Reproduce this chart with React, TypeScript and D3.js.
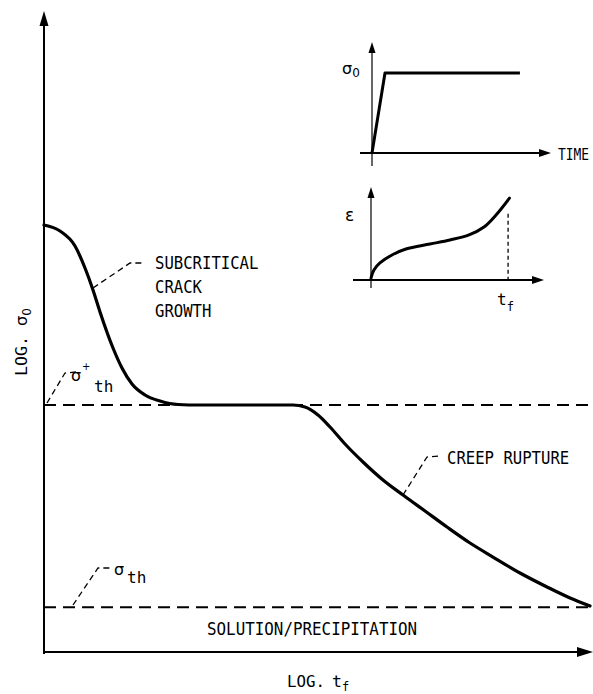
import React from "react";
import * as d3 from "d3";

// Main curve: log time (x) vs log stress (y), arbitrary units 0..10
const mainX = [0, 0.292, 0.566, 0.748, 0.894, 1.022, 1.259, 1.423, 1.606, 1.843, 2.117, 2.445, 2.847, 4.544, 4.763, 5.0, 5.219, 5.493, 5.821, 6.186, 6.551, 6.953, 7.354, 7.774, 8.193, 8.686, 9.179, 9.599, 9.964];
const mainY = [6.672, 6.578, 6.344, 6.0, 5.656, 5.313, 4.75, 4.438, 4.188, 4.016, 3.922, 3.867, 3.859, 3.859, 3.828, 3.703, 3.516, 3.25, 2.969, 2.688, 2.453, 2.203, 1.953, 1.703, 1.484, 1.234, 1.016, 0.844, 0.719];
const thresholds = [
  { name: "sthStar", value: 3.86 },
  { name: "sth", value: 0.7 },
];

// Inset 1: applied stress vs time
const stressX = [0, 0.73, 8.31];
const stressY = [0, 7.27, 7.27];

// Inset 2: strain vs time
const strainX = [0, 0.17, 0.52, 1.22, 2.03, 3.43, 4.59, 5.7, 6.57, 7.27, 8.05];
const strainY = [0.2, 1.09, 1.85, 2.72, 3.37, 3.91, 4.35, 4.9, 5.76, 7.07, 8.9];
const failureTime = 7.97;

const mono = "'DejaVu Sans Mono', monospace";
const sans = "'DejaVu Sans', sans-serif";

function Lbl({ x, y, s, adv = 9.4, size = 17.5, anchor = "start" }: { x: number; y: number; s: string; adv?: number; size?: number; anchor?: string }) {
  return (
    <text x={x} y={y} fontFamily={mono} fontSize={size} textAnchor={anchor as any} textLength={s.length * adv} lengthAdjust="spacingAndGlyphs">
      {s}
    </text>
  );
}

export default function App() {
  const W = 593, H = 694;
  const x = d3.scaleLinear().domain([0, 10]).range([44, 592]);
  const y = d3.scaleLinear().domain([0, 10]).range([652, 12]);

  const mainPts = mainX.map((v, i) => [x(v), y(mainY[i])] as [number, number]);
  const mainPath = d3.line().curve(d3.curveMonotoneX)(mainPts) || "";

  const ix1 = d3.scaleLinear().domain([0, 10]).range([372, 550]);
  const iy1 = d3.scaleLinear().domain([0, 10]).range([153, 43]);
  const stressPath = d3.line()(stressX.map((v, i) => [ix1(v), iy1(stressY[i])] as [number, number])) || "";

  const ix2 = d3.scaleLinear().domain([0, 10]).range([371, 543]);
  const iy2 = d3.scaleLinear().domain([0, 10]).range([280, 188]);
  const strainPath = d3.line().curve(d3.curveCatmullRom.alpha(0.5))(strainX.map((v, i) => [ix2(v), iy2(strainY[i])] as [number, number])) || "";

  const x0 = x(0), yBase = y(0);

  return (
    <svg width={W} height={H} style={{ position: "absolute", left: 0, top: 0, background: "#fff" }}>
      {/* main axes */}
      <line x1={x0} y1={yBase + 2} x2={x0} y2={24} stroke="#000" strokeWidth={2} />
      <path d={`M${x0},11 L${x0 - 4.5},26 L${x0 + 4.5},26 Z`} fill="#000" />
      <line x1={x0 - 1} y1={yBase} x2={580} y2={yBase} stroke="#000" strokeWidth={2} />
      <path d={`M593,${yBase} L577,${yBase - 5} L577,${yBase + 5} Z`} fill="#000" />

      {/* threshold dashed lines */}
      {thresholds.map((t) => (
        <line key={t.name} x1={x0} y1={y(t.value)} x2={593} y2={y(t.value)} stroke="#000" strokeWidth={2} strokeDasharray="12,7" />
      ))}

      {/* main curve */}
      <path d={mainPath} fill="none" stroke="#000" strokeWidth={3.2} strokeLinecap="round" />

      {/* leaders */}
      <path d="M93,288 L130,263 L145,263" fill="none" stroke="#000" strokeWidth={1.3} strokeDasharray="6,4" />
      <path d="M403,495 L427,457 L441,456" fill="none" stroke="#000" strokeWidth={1.3} strokeDasharray="6,4" />
      <path d="M47,403 L65,373 L76,372" fill="none" stroke="#000" strokeWidth={1.3} strokeDasharray="6,4" />
      <path d="M73,605 L98,568 L110,568" fill="none" stroke="#000" strokeWidth={1.3} strokeDasharray="6,4" />

      {/* labels */}
      <g fill="#000">
        <Lbl x={155} y={269} s="SUBCRITICAL" />
        <Lbl x={155} y={293} s="CRACK" />
        <Lbl x={155} y={317} s="GROWTH" />
        <Lbl x={447} y={464} s="CREEP RUPTURE" />
        <Lbl x={207} y={635} s="SOLUTION/PRECIPITATION" adv={9.55} />
        <Lbl x={287} y={687} s="LOG." adv={9.5} size={16.5} />
        <text x={332} y={687} fontFamily={mono} fontSize={16.5}>t<tspan fontSize={12} dy={4}>f</tspan></text>
        <g transform="translate(27,338) rotate(-90)">
          <text x={-38} y={0} fontFamily={mono} fontSize={16.5} textLength={40} lengthAdjust="spacingAndGlyphs">LOG.</text>
          <text x={12} y={0} fontFamily={sans} fontSize={16}>σ<tspan fontSize={12} dy={4}>0</tspan></text>
        </g>
      </g>
      <g fontFamily={sans} fill="#000">
        <text x={71} y={381} fontSize={16}>σ</text>
        <text x={82} y={370} fontSize={10}>+</text>
        <text x={94} y={392} fontSize={16} fontFamily={mono}>th</text>
        <text x={114} y={575} fontSize={16}>σ</text>
        <text x={127} y={583} fontSize={16} fontFamily={mono}>th</text>
      </g>

      {/* inset 1 */}
      <line x1={ix1(0)} y1={166} x2={ix1(0)} y2={50} stroke="#000" strokeWidth={1.2} />
      <path d={`M${ix1(0)},42 L${ix1(0) - 3.5},53 L${ix1(0) + 3.5},53 Z`} fill="#000" />
      <line x1={360} y1={iy1(0)} x2={542} y2={iy1(0)} stroke="#000" strokeWidth={1.8} />
      <path d={`M551,${iy1(0)} L539,${iy1(0) - 4} L539,${iy1(0) + 4} Z`} fill="#000" />
      <path d={stressPath} fill="none" stroke="#000" strokeWidth={3} strokeLinejoin="round" />
      <text x={342} y={74} fontFamily={sans} fontSize={16}>σ<tspan fontSize={12} dy={3}>0</tspan></text>
      <text x={558} y={160} fontFamily={mono} fontSize={15} textLength={31} lengthAdjust="spacingAndGlyphs">TIME</text>

      {/* inset 2 */}
      <line x1={ix2(0)} y1={288} x2={ix2(0)} y2={196} stroke="#000" strokeWidth={1.2} />
      <path d={`M${ix2(0)},187 L${ix2(0) - 3.5},198 L${ix2(0) + 3.5},198 Z`} fill="#000" />
      <line x1={353} y1={iy2(0)} x2={535} y2={iy2(0)} stroke="#000" strokeWidth={1.8} />
      <path d={`M544,${iy2(0)} L532,${iy2(0) - 4} L532,${iy2(0) + 4} Z`} fill="#000" />
      <line x1={ix2(failureTime)} y1={iy2(7.2)} x2={ix2(failureTime)} y2={iy2(0)} stroke="#000" strokeWidth={1.3} strokeDasharray="4,3" />
      <path d={strainPath} fill="none" stroke="#000" strokeWidth={3} strokeLinecap="round" />
      <text x={345} y={221} fontFamily={sans} fontSize={17}>ε</text>
      <text x={497} y={305} fontFamily={mono} fontSize={16}>t<tspan fontSize={12} dy={6}>f</tspan></text>
    </svg>
  );
}
